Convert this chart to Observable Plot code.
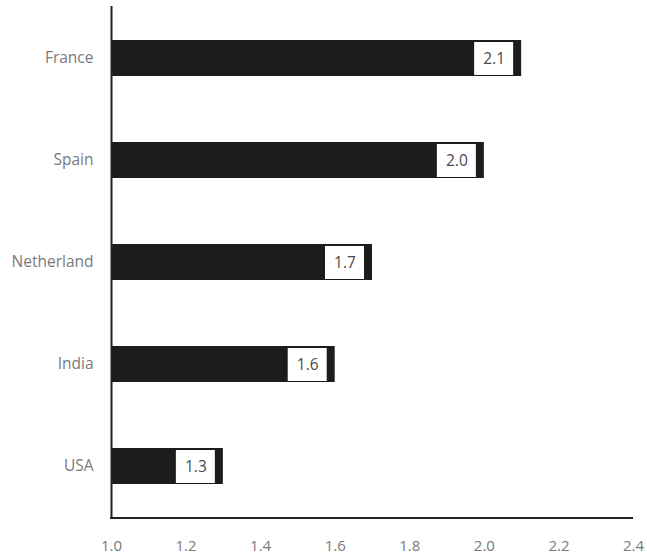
<!DOCTYPE html>
<html>
<head>
<meta charset="utf-8">
<script src="https://cdn.jsdelivr.net/npm/d3@7"></script>
<script src="https://cdn.jsdelivr.net/npm/@observablehq/plot@0.6"></script>
<style>
  html, body { margin: 0; padding: 0; background: #fff; }
  #chart svg { display: block; }
</style>
</head>
<body>
<div id="chart"></div>
<script>
const countries = ["France", "Spain", "Netherland", "India", "USA"];
const values = [2.1, 2.0, 1.7, 1.6, 1.3];
const xTicks = [1.0, 1.2, 1.4, 1.6, 1.8, 2.0, 2.2, 2.4];

const data = countries.map((c, i) => ({country: c, value: values[i]}));

const W = 647, H = 554, mB = 36;
const chart = Plot.plot({
  width: W,
  height: H,
  marginLeft: 111,
  marginRight: 14,
  marginTop: 6,
  marginBottom: mB,
  style: {fontFamily: "'Open Sans', 'Noto Sans', sans-serif", background: "#fff"},
  x: {domain: [1.0, 2.4], ticks: xTicks, tickFormat: d3.format(".1f"), label: null},
  y: {domain: countries, paddingInner: 0.65, paddingOuter: 0.325, label: null},
  marks: [
    Plot.barX(data, {x1: 1.0, x2: "value", y: "country", fill: "#1c1c1c"}),
    Plot.barX(data, {x1: "value", x2: "value", y: "country", fill: "#fff",
      insetLeft: -47, insetRight: 8, insetTop: 2, insetBottom: 1}),
    Plot.text(data, {x: "value", y: "country", text: d => d.value.toFixed(1),
      dx: -27.5, dy: 0.5, fill: "#4a4a4a", fontSize: 15.5, textAnchor: "middle"}),
    Plot.axisX({ticks: xTicks, tickFormat: d3.format(".1f"), tickSize: 0, tickPadding: 22,
      fontSize: 15, color: "#7a7a7a", label: null, ariaLabel: "x-axis"}),
    Plot.axisY({tickSize: 0, tickPadding: 18, fontSize: 15.5, color: "#7a7a7a", label: null}),
    Plot.ruleX([1.0], {stroke: "#222", strokeWidth: 2})
  ]
});
// make sure x tick labels use the intended size
d3.select(chart).selectAll('g[aria-label^="x-axis"]').attr("font-size", 15)
  .selectAll("text").attr("font-size", 15);
// bottom axis line, positioned via the plot's own x scale
const xs = chart.scale("x");
d3.select(chart).append("line")
  .attr("x1", xs.apply(1.0) - 1).attr("x2", xs.apply(2.4))
  .attr("y1", H - mB).attr("y2", H - mB)
  .attr("stroke", "#222").attr("stroke-width", 2);
document.getElementById("chart").appendChild(chart);
</script>
</body>
</html>
